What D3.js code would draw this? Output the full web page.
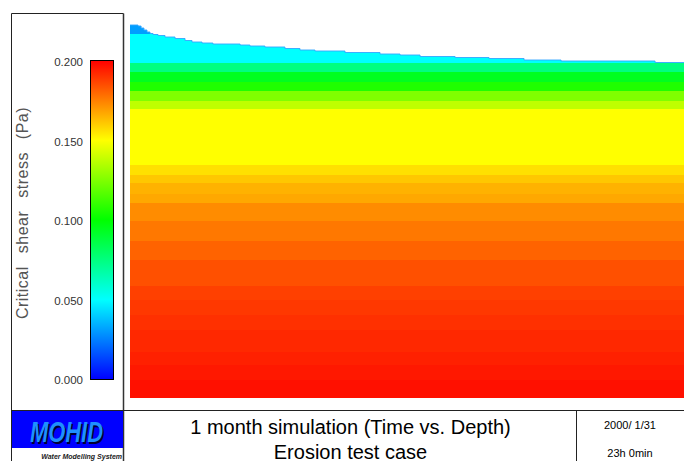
<!DOCTYPE html>
<html><head><meta charset="utf-8">
<script src="https://cdn.jsdelivr.net/npm/d3@7"></script>
<style>body{margin:0;background:#fff;} text{font-family:"Liberation Sans",Arial,sans-serif;}</style>
</head><body>
<script>
// ---- data ----
const colorStops = [0, 0.05, 0.1, 0.15, 0.2];
const colorRange = ["#0000ff", "#00ffff", "#00ff00", "#ffff00", "#ff0000"];
const colorTicks = [0, 0.05, 0.1, 0.15, 0.2];
// time (days) and depth of sediment surface (cm below reference)
const surfaceDays = [0, 0.45, 0.62, 0.78, 0.95, 1.12, 1.29, 1.57, 1.96, 2.52, 3.08, 3.47, 4.03, 4.64, 6.16, 6.71, 7.55, 8.67, 9.51, 10.35, 12.03, 13.99, 15.11, 16.23, 18.19, 20.09, 22.05, 24.12, 29.38, 31];
const surfaceDepth = [0.5, 0.6, 0.8, 1.0, 1.2, 1.35, 1.45, 1.55, 1.7, 1.85, 2.05, 2.2, 2.3, 2.4, 2.5, 2.6, 2.7, 2.85, 3.0, 3.1, 3.25, 3.4, 3.5, 3.65, 3.75, 3.85, 4.0, 4.1, 4.25, 4.25];
// sediment layers: top depth (cm) and critical shear stress (Pa)
const layerTop = [0.5, 1.4, 4.3, 5.2, 6.2, 7.1, 8.1, 8.9, 14.5, 15.5, 16.3, 17.4, 18.3, 20.1, 22.1, 24.0, 26.6, 28.0, 29.5, 31.0, 33.2, 34.5, 36.0];
const layerStress = [0.031, 0.050, 0.075, 0.094, 0.106, 0.125, 0.1375, 0.150, 0.156, 0.161, 0.165, 0.167, 0.1725, 0.1765, 0.1805, 0.1843, 0.1875, 0.189, 0.1906, 0.1922, 0.1937, 0.1953, 0.1969];
const bottomDepth = 37.8;
const timeDomain = [0, 31];
const titleLines = ["1 month simulation (Time vs. Depth)", "Erosion test case"];
const dateLines = ["2000/ 1/31", "23h 0min"];
const legendTitle = "Critical shear stress (Pa)";

// ---- drawing ----
const W = 684, H = 461;
const svg = d3.select("body").append("svg").attr("width", W).attr("height", H);
const color = d3.scaleLinear().domain(colorStops).range(colorRange);
const x = d3.scaleLinear().domain(timeDomain).range([130, 684]);
const y = d3.scaleLinear().domain([0, bottomDepth]).range([20, 398]);

const surf = surfaceDays.map((d, i) => ({t: d, z: surfaceDepth[i]}));
const defs = svg.append("defs");
const area = d3.area().curve(d3.curveStepAfter).x(d => x(d.t)).y0(y(bottomDepth)).y1(d => y(d.z));
defs.append("clipPath").attr("id", "sed").append("path").attr("d", area(surf));

const layers = layerTop.map((t, i) => ({top: t, bot: i < layerTop.length - 1 ? layerTop[i + 1] : bottomDepth, v: layerStress[i]}));
const g = svg.append("g").attr("clip-path", "url(#sed)");
g.selectAll("rect").data(layers).join("rect")
  .attr("x", x(timeDomain[0])).attr("width", x(timeDomain[1]) - x(timeDomain[0]))
  .attr("y", d => y(d.top)).attr("height", d => y(d.bot) - y(d.top) + 0.5)
  .attr("fill", d => color(d.v)).attr("shape-rendering", "crispEdges");

svg.append("path").attr("d", d3.line().curve(d3.curveStepAfter).x(d => x(d.t)).y(d => y(d.z))(surf))
  .attr("fill", "none").attr("stroke", "#33a6ff").attr("stroke-width", 0.9);

// left legend panel
const cy = d3.scaleLinear().domain([0, 0.2]).range([379, 61]);
const grad = defs.append("linearGradient").attr("id", "cb").attr("x1", 0).attr("y1", 1).attr("x2", 0).attr("y2", 0);
colorStops.forEach(v => grad.append("stop").attr("offset", v / 0.2).attr("stop-color", color(v)));
svg.append("rect").attr("x", 90.5).attr("y", cy(0.2) - 0.5).attr("width", 23).attr("height", cy(0) - cy(0.2) + 1)
  .attr("fill", "url(#cb)").attr("stroke", "#000").attr("stroke-width", 1);
svg.append("g").selectAll("text").data(colorTicks).join("text")
  .attr("x", 83).attr("y", d => cy(d) + 1).attr("dy", "0.35em").attr("text-anchor", "end")
  .attr("font-size", "11.5px").attr("fill", "#333").text(d => d3.format(".3f")(d));
svg.append("text").attr("transform", "translate(27.5,213) rotate(-90)").attr("text-anchor", "middle")
  .attr("font-size", "16px").attr("fill", "#555").attr("letter-spacing", "0.5px")
  .attr("word-spacing", "8px").text(legendTitle);

// frames
const frame = svg.append("g").attr("stroke", "#222").attr("fill", "none");
frame.append("line").attr("x1", 11.5).attr("y1", 13.5).attr("x2", 123.5).attr("y2", 13.5);
frame.append("line").attr("x1", 11.5).attr("y1", 13.5).attr("x2", 11.5).attr("y2", 461);
frame.append("line").attr("x1", 123.5).attr("y1", 13.5).attr("x2", 123.5).attr("y2", 461).attr("stroke-width", 1.5).attr("stroke", "#333");
frame.append("line").attr("x1", 11.5).attr("y1", 410.5).attr("x2", 684).attr("y2", 410.5);
frame.append("line").attr("x1", 576.5).attr("y1", 410.5).attr("x2", 576.5).attr("y2", 461);

// logo
svg.append("rect").attr("x", 12).attr("y", 411).attr("width", 111).attr("height", 37).attr("fill", "#0000ff");
svg.append("text").attr("x", 31.5).attr("y", 443.5).attr("font-size", "29px").attr("font-weight", "bold").attr("font-style", "italic")
  .attr("textLength", 73).attr("lengthAdjust", "spacingAndGlyphs").attr("fill", "#000033").text("MOHID");
svg.append("text").attr("x", 30).attr("y", 442).attr("font-size", "29px").attr("font-weight", "bold").attr("font-style", "italic")
  .attr("textLength", 73).attr("lengthAdjust", "spacingAndGlyphs").attr("fill", "#1e8fff").text("MOHID");
svg.append("text").attr("x", 122).attr("y", 458.5).attr("text-anchor", "end").attr("font-size", "7px")
  .attr("font-weight", "bold").attr("font-style", "italic").attr("fill", "#222").text("Water Modelling System");

// title & date
svg.append("g").selectAll("text").data(titleLines).join("text")
  .attr("x", 350.5).attr("y", (d, i) => 434 + i * 24.5).attr("text-anchor", "middle")
  .attr("font-size", "20px").attr("fill", "#000").text(d => d);
svg.append("g").selectAll("text").data(dateLines).join("text")
  .attr("x", 630).attr("y", (d, i) => 428.5 + i * 28.5).attr("text-anchor", "middle")
  .attr("font-size", "11px").attr("fill", "#000").text(d => d);
</script>
</body></html>
